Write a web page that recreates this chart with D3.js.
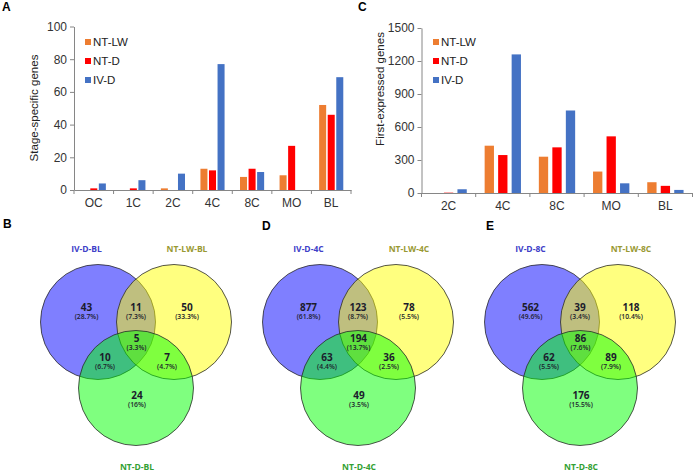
<!DOCTYPE html>
<html>
<head>
<meta charset="utf-8">
<script src="https://cdn.jsdelivr.net/npm/d3@7"></script>
<style>
  body { margin: 0; background: #fff; }
  svg text { font-family: "Liberation Sans", Arial, sans-serif; }
  .venn text { font-family: "Open Sans", "Noto Sans", sans-serif; }
</style>
</head>
<body>
<svg id="fig" width="694" height="474"></svg>
<script>
// bar panels
const seriesNames = ['NT-LW', 'NT-D', 'IV-D'];
const seriesColors = ['#ED7D31', '#FF0000', '#4472C4'];

const stagesA = ['OC', '1C', '2C', '4C', '8C', 'MO', 'BL'];
const ntlwA = [0, 0, 1, 13, 8, 9, 52];
const ntdA = [1, 1, 0, 12, 13, 27, 46];
const ivdA = [4, 6, 10, 77, 11, 0, 69];
const ticksA = [0, 20, 40, 60, 80, 100];

const stagesC = ['2C', '4C', '8C', 'MO', 'BL'];
const ntlwC = [0, 430, 330, 195, 98];
const ntdC = [3, 345, 415, 515, 65];
const ivdC = [34, 1260, 750, 88, 28];
const ticksC = [0, 300, 600, 900, 1200, 1500];

// venn panels: order = IV only, LW only, D only, IV&LW, IV&D, LW&D, all
const vennB = ['IV-D-BL', 'NT-LW-BL', 'NT-D-BL'];
const countsB = [43, 50, 24, 11, 10, 7, 5];
const pctB = ['28.7%', '33.3%', '16%', '7.3%', '6.7%', '4.7%', '3.3%'];

const vennD = ['IV-D-4C', 'NT-LW-4C', 'NT-D-4C'];
const countsD = [877, 78, 49, 123, 63, 36, 194];
const pctD = ['61.8%', '5.5%', '3.5%', '8.7%', '4.4%', '2.5%', '13.7%'];

const vennE = ['IV-D-8C', 'NT-LW-8C', 'NT-D-8C'];
const countsE = [562, 118, 176, 39, 62, 89, 86];
const pctE = ['49.6%', '10.4%', '15.5%', '3.4%', '5.5%', '7.9%', '7.6%'];

const svg = d3.select('#fig');

function letter(txt, x, y) {
    svg.append('text').attr('x', x).attr('y', y)
       .attr('font-size', 12).attr('font-weight', 'bold').attr('fill', '#000')
       .text(txt);
}

function barPanel(opt) {
    let g = svg.append('g');
    let x = d3.scaleBand().domain(opt.stages).range(opt.xr);
    let y = d3.scaleLinear().domain([0, opt.ticks[opt.ticks.length - 1]]).range(opt.yr);
    let gw = x.bandwidth() * opt.group;
    let xs = d3.scaleBand().domain(seriesNames).range([0, gw]).paddingInner(opt.inner);
    let off = (x.bandwidth() - gw) / 2;

    let rows = opt.stages.map((s, i) => ({ stage: s, vals: opt.series.map(a => a[i]) }));

    g.selectAll('g.grp').data(rows).enter().append('g')
     .attr('transform', d => `translate(${x(d.stage) + off},0)`)
     .selectAll('rect')
     .data(d => d.vals.map((v, k) => ({ name: seriesNames[k], v: v, c: seriesColors[k] })))
     .enter().append('rect')
     .attr('x', d => xs(d.name))
     .attr('width', xs.bandwidth())
     .attr('y', d => y(d.v))
     .attr('height', d => y(0) - y(d.v))
     .attr('fill', d => d.c);

    // y axis
    let ya = g.append('g').attr('transform', `translate(${opt.xr[0]},0)`)
       .call(d3.axisLeft(y).tickValues(opt.ticks).tickFormat(d3.format('d'))
               .tickSize(4).tickSizeOuter(0).tickPadding(3));
    ya.selectAll('path,line').attr('stroke', '#868686');
    ya.selectAll('text').attr('font-size', 12).attr('fill', '#333').attr('font-family', '"Liberation Sans", Arial, sans-serif');

    // x axis
    let xa = g.append('g').attr('transform', `translate(0,${opt.yr[0]})`)
       .call(d3.axisBottom(x).tickSize(0).tickPadding(8));
    xa.select('path').attr('stroke', '#868686');
    xa.selectAll('text').attr('font-size', 12).attr('fill', '#333').attr('font-family', '"Liberation Sans", Arial, sans-serif');
    let bounds = opt.stages.map(s => x(s)).concat([x.range()[1]]);
    g.selectAll('line.xt').data(bounds).enter().append('line')
     .attr('x1', d => d).attr('x2', d => d)
     .attr('y1', opt.yr[0]).attr('y2', opt.yr[0] + 4)
     .attr('stroke', '#868686');

    // title
    g.append('text')
     .attr('transform', `translate(${opt.titleX},${opt.titleY}) rotate(-90)`)
     .attr('text-anchor', 'middle').attr('font-size', 11.5).attr('fill', '#222')
     .text(opt.title);

    // legend
    let lg = g.selectAll('g.leg').data(seriesNames).enter().append('g')
      .attr('transform', (d, i) => `translate(${opt.legX},${42 + i * 19})`);
    lg.append('rect').attr('x', 0).attr('y', -3).attr('width', 6).attr('height', 6)
      .attr('fill', (d, i) => seriesColors[i]);
    lg.append('text').attr('x', 8).attr('y', 4).attr('font-size', 11.5).attr('fill', '#222')
      .text(d => d);
}

barPanel({ stages: stagesA, series: [ntlwA, ntdA, ivdA], ticks: ticksA,
           xr: [74, 351], yr: [190, 26.5], group: 0.61, inner: 0.18,
           title: 'Stage-specific genes', titleX: 38, titleY: 108, legX: 85 });
barPanel({ stages: stagesC, series: [ntlwC, ntdC, ivdC], ticks: ticksC,
           xr: [421.5, 692.5], yr: [193, 28], group: 0.67, inner: 0.31,
           title: 'First-expressed genes', titleX: 384, titleY: 89, legX: 433 });

letter('A', 2, 11);
letter('C', 358, 11);
letter('B', 3, 228);
letter('D', 262, 230);
letter('E', 486, 230);

function vennPanel(mid, names, counts, pcts) {
    let g = svg.append('g').attr('class', 'venn');
    let r = 57.5, cy = 322;
    let circles = [
        { cx: mid - 38, cy: cy, fill: '#0000ff' },
        { cx: mid + 38, cy: cy, fill: '#ffff00' },
        { cx: mid, cy: cy + 66, fill: '#00ff00' }
    ];
    g.selectAll('circle').data(circles).enter().append('circle')
     .attr('cx', d => d.cx).attr('cy', d => d.cy).attr('r', r)
     .attr('fill', d => d.fill).attr('fill-opacity', 0.5)
     .attr('stroke', '#2a2a2a').attr('stroke-width', 0.8);

    // region label anchors, relative to panel middle
    let spots = [[-49.5, 311], [51, 311], [1, 399], [0, 311], [-31, 361], [31, 361], [0.5, 342]];
    let lab = g.selectAll('g.reg').data(counts).enter().append('g')
      .attr('transform', (d, i) => `translate(${mid + spots[i][0]},${spots[i][1]})`);
    lab.append('text').attr('text-anchor', 'middle').attr('font-size', 10)
       .attr('font-weight', 'bold').attr('fill', '#1c1c2c').text(d => d);
    lab.append('text').attr('text-anchor', 'middle').attr('y', 7.5).attr('font-size', 6.8)
       .attr('font-weight', 600).attr('fill', '#1c1c2c').text((d, i) => '(' + pcts[i] + ')');

    let nameCol = ['#4040c8', '#999933', '#33a033'];
    let namePos = [[-49.5, 252], [51, 252], [1, 470]];
    g.selectAll('text.nm').data(names).enter().append('text')
     .attr('x', (d, i) => mid + namePos[i][0]).attr('y', (d, i) => namePos[i][1])
     .attr('text-anchor', 'middle').attr('font-size', 8.5).attr('font-weight', 'bold')
     .attr('fill', (d, i) => nameCol[i]).text(d => d);
}

vennPanel(136, vennB, countsB, pctB);
vennPanel(358, vennD, countsD, pctD);
vennPanel(580, vennE, countsE, pctE);
</script>
</body>
</html>
